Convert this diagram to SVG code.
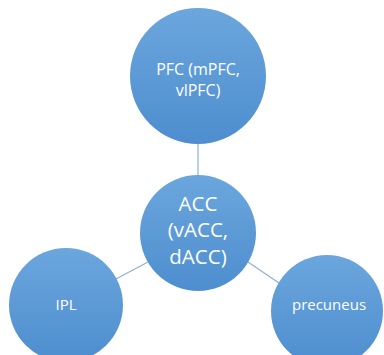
<svg xmlns="http://www.w3.org/2000/svg" width="384" height="355" viewBox="0 0 384 355">
<defs>
<linearGradient id="g" x1="0" y1="0" x2="0" y2="1">
<stop offset="0" stop-color="#6ba6dd"/>
<stop offset="1" stop-color="#4e8ecf"/>
</linearGradient>
<style>
.n{fill:url(#g);}
.t{fill:#ffffff;font-family:"Open Sans","Liberation Sans",sans-serif;text-anchor:middle;}
.c{stroke:#8fb0d6;stroke-width:1.2;fill:none;}
</style>
</defs>
<rect width="384" height="355" fill="#ffffff"/>
<g id="connectors">
<line class="c" x1="198" y1="143" x2="198" y2="176"/>
<line class="c" x1="148" y1="262" x2="116" y2="279"/>
<line class="c" x1="248" y1="262" x2="279" y2="283"/>
</g>
<g id="pfc">
<circle class="n" cx="198" cy="76" r="68"/>
<text class="t" font-size="16" x="198" y="75">PFC (mPFC,</text>
<text class="t" font-size="16" x="198" y="96">vlPFC)</text>
</g>
<g id="acc">
<circle class="n" cx="198" cy="233" r="58"/>
<text class="t" font-size="20.5" x="198" y="211">ACC</text>
<text class="t" font-size="20.5" x="198" y="237">(vACC,</text>
<text class="t" font-size="20.5" x="198" y="264">dACC)</text>
</g>
<g id="ipl">
<circle class="n" cx="66" cy="305" r="57"/>
<text class="t" font-size="15" x="66" y="310">IPL</text>
</g>
<g id="precuneus">
<circle class="n" cx="327" cy="311" r="56"/>
<text class="t" font-size="15" x="329" y="310">precuneus</text>
</g>
</svg>
